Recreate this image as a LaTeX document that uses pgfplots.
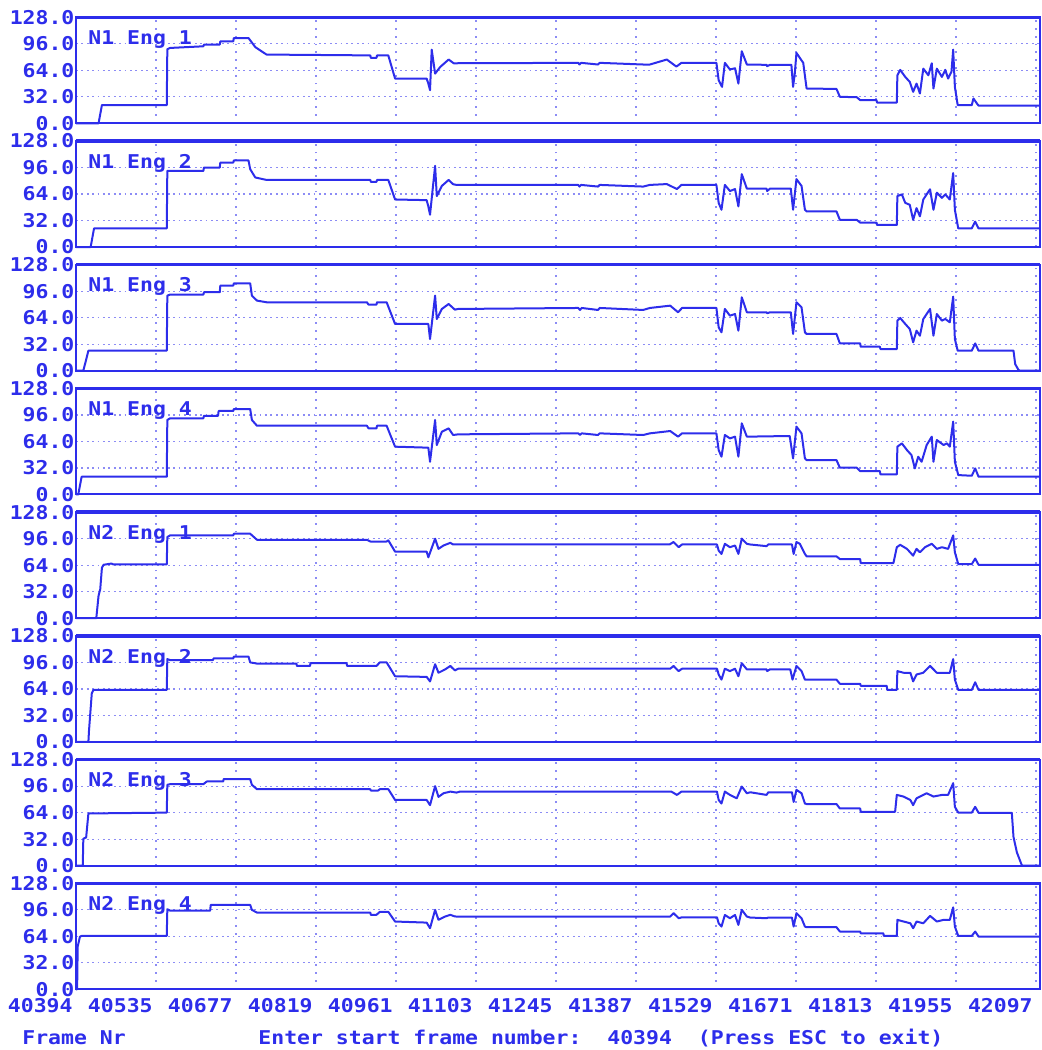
\documentclass[border=0pt]{standalone}
\usepackage{pgfplots}
\pgfplotsset{compat=1.18}
\usepackage{pgfplotstable}
\usepackage{fontspec}
\newfontfamily\scrfont{DejaVu Sans Mono}[FakeStretch=1.13]
\definecolor{scr}{RGB}{45,45,235}
\definecolor{scrgrid}{RGB}{140,140,245}
\newcommand{\scrtext}{\scrfont\bfseries\fontsize{9.5}{11}\selectfont}

% N1 Eng 1
\pgfplotstableread{
x y
40394 0
40434 0
40440 22
40555 22
40556 89.5
40561 91
40620 93
40621 95
40649 95
40650 99
40673 99
40674 103
40700 103
40712 92
40732 83
40916 82
40917 79
40927 79
40928 82
40948 82
40960 54
41016 54
41019 48
41022 40
41025 89
41031 60
41040 68
41055 77
41064 72.5
41285 73
41287 71
41290 73
41320 71
41323 73
41400 71
41412 71
41442 77
41459 68.5
41468 73
41530 73
41534 52
41540 44
41545 73
41554 65
41563 66.5
41569 48
41575 87
41584 71
41619 70.6
41620 69
41625 70.6
41663 70.6
41666 44
41669 60
41672 85
41684 73
41690 42
41743 41.5
41749 32
41779 31.5
41785 28
41814 28
41815 25
41850 25
41851 58
41856 64.5
41865 56
41873 50
41879 38
41885 48
41891 36
41897 66
41906 58
41912 72.5
41915 42
41921 66
41930 56
41936 64.5
41941 54
41947 62.5
41950 89
41953 44
41958 22
41983 22
41986 30
41992 24
41995 21.4
42104 21.4
}\tA

% N1 Eng 2
\pgfplotstableread{
x y
40394 0
40420 0
40426 22.5
40555 22.5
40556 92
40620 92
40621 96
40649 96
40650 102
40673 102
40674 104.5
40700 104.5
40703 94
40712 84
40732 81
40916 81
40917 78.7
40927 78.7
40928 81
40948 81
40960 57.4
41016 56.6
41019 49
41022 39
41031 98
41034 61.5
41043 73.8
41055 81
41063 75.8
41069 75
41285 75
41287 73
41290 75
41320 73
41323 75
41400 73
41412 75
41442 76
41460 70
41468 75
41530 75
41534 53.3
41539 45
41545 75
41554 67.6
41563 70
41569 49
41575 88
41584 70.5
41619 70.5
41620 67.6
41625 70.5
41662 70.5
41666 45
41672 82
41681 73.8
41687 45
41690 43
41743 43
41749 32.8
41779 32.8
41785 29.5
41814 29.5
41815 26.6
41850 26.6
41851 61.5
41859 63.5
41865 53.3
41873 51
41879 32.8
41885 47
41891 37
41897 57.4
41909 69.7
41915 45
41921 65.6
41930 59.4
41936 63.5
41944 57.4
41950 89.3
41953 45
41959 22.5
41983 22.5
41989 30.7
41995 22.5
42104 22.5
}\tB

% N1 Eng 3
\pgfplotstableread{
x y
40394 0
40407 0
40416 24.2
40555 24.2
40556 90.7
40561 92
40620 92
40621 94.8
40649 94.8
40650 102.8
40673 102.8
40674 105.6
40703 105.6
40706 90.7
40715 84.7
40732 82.7
40910 82.7
40913 79.8
40927 79.8
40928 82.7
40945 82.7
40960 56.5
41019 56.5
41022 38.3
41031 90.7
41034 62.5
41043 74.6
41055 80.6
41066 73.8
41072 74.6
41285 75.8
41288 73.4
41291 75.8
41320 73.4
41323 75.8
41400 73.4
41412 75.8
41448 78.6
41462 70.6
41469 75.8
41530 75.8
41534 52.4
41539 46.4
41545 74.6
41554 66.5
41563 68.5
41569 48.4
41575 88.7
41584 70.6
41619 70.6
41620 69.4
41625 70.6
41662 70.6
41666 44.4
41672 82.7
41681 76.6
41687 46.4
41690 44.4
41743 44.4
41749 33
41785 33
41786 29
41820 29
41821 26.2
41850 26.2
41851 60.5
41856 63.7
41865 56.5
41873 50.4
41879 34.3
41885 48.4
41891 42.3
41897 62.5
41909 74.6
41915 42.3
41921 68.5
41930 60.5
41936 62.5
41944 58.5
41950 89.5
41953 38.3
41958 24.2
41983 24.2
41989 33
41995 24.2
42057 24.2
42060 8
42066 0.8
42069 0
42104 0
}\tC

% N1 Eng 4
\pgfplotstableread{
x y
40394 0
40398 0
40404 21.4
40555 21.4
40556 90
40561 92
40620 92
40621 95
40646 95
40647 100.8
40673 100.8
40674 103.2
40703 103.2
40706 90
40715 83
40910 83
40913 79.8
40927 79.8
40928 83
40945 83
40960 57.7
41019 56.5
41022 39.5
41031 90
41034 59.7
41043 75.8
41055 79.8
41063 71.8
41072 72.6
41285 73.8
41288 71.8
41291 73.8
41320 71.8
41323 73.8
41400 71.8
41412 73.8
41448 76.6
41462 69.8
41469 73.8
41530 73.8
41534 53.6
41539 45.6
41545 71.8
41554 67.7
41563 69.8
41569 45.6
41575 85.9
41584 69.8
41660 70.6
41666 43.5
41672 81.9
41681 73.8
41687 43.5
41690 41.5
41743 41.5
41749 32.3
41779 32.3
41785 28.2
41820 28.2
41821 24.2
41850 24.2
41851 57.7
41859 61.7
41868 53.6
41876 47.6
41882 31.5
41888 45.6
41894 39.5
41903 59.7
41912 69.8
41915 39.5
41921 65.7
41933 59.7
41939 61.7
41944 57.7
41950 88
41953 39.5
41959 23.4
41983 22.6
41989 31.5
41995 21.4
42104 21.4
}\tD

% N2 Eng 1
\pgfplotstableread{
x y
40394 0
40430 0
40434 27
40437 35
40440 61
40443 64.5
40457 66
40460 65
40555 65
40556 98
40561 100
40673 100
40674 102
40703 102
40715 94.7
40910 94.7
40916 92.6
40945 92.6
40948 94
40960 80.4
41016 80.4
41019 73.5
41031 96
41037 83.7
41046 87.8
41058 91
41063 89
41447 89
41454 92
41463 85.7
41469 89
41531 89
41534 81.6
41539 77.6
41545 89.8
41554 85.7
41563 87.8
41569 77.6
41575 96
41584 89.8
41590 89
41619 87
41622 89
41664 89
41667 77.6
41672 92
41678 89.8
41687 77.6
41690 74.7
41743 74.7
41749 71.4
41785 71.4
41786 66.5
41844 66.5
41850 85.7
41856 88.6
41868 83.7
41879 75.5
41885 83.7
41891 79.6
41900 85.7
41912 89.8
41921 83.7
41930 85.7
41941 83.7
41950 100
41953 79.6
41959 65.3
41983 65.3
41989 72
41995 64.5
42104 64.5
}\tE

% N2 Eng 2
\pgfplotstableread{
x y
40394 0
40416 0
40417 13
40422 58.7
40425 62.8
40555 62.8
40556 100
40561 98.8
40637 98.8
40638 100.8
40673 100.8
40674 103
40700 103
40703 96
40715 94.6
40785 94.6
40786 91.7
40809 91.7
40810 95
40874 95
40875 91.7
40927 91.7
40933 96
40945 96
40960 79.3
41016 78.5
41022 73
41031 93.8
41037 83.5
41049 87.6
41058 91.7
41066 86.4
41072 88.4
41448 88.4
41454 91.7
41463 85.5
41469 88.4
41531 88.4
41534 81.4
41539 75.2
41545 88.4
41554 85.5
41563 88.4
41569 79.3
41575 95
41584 87.6
41619 87.6
41620 85.5
41625 87.6
41661 87.6
41665 75.2
41672 91.7
41681 85.5
41687 75.2
41743 75.2
41749 70.2
41785 70.2
41786 67.8
41832 67.8
41833 62.8
41850 62.8
41851 85.5
41862 83.5
41874 83.5
41879 73
41885 81.4
41897 83.5
41909 91.7
41921 83.5
41944 83.5
41950 100
41953 75.2
41959 62.8
41983 62.8
41989 72
41995 62.8
42104 62.8
}\tF

% N2 Eng 3
\pgfplotstableread{
x y
40394 0
40406 0
40407 32.5
40412 34
40416 63
40555 64
40556 97.6
40561 98.4
40620 98.4
40626 101.6
40655 101.6
40656 104.5
40703 104.5
40706 97.6
40715 92.3
40916 92.3
40917 90.7
40930 90.7
40933 92.3
40948 92.3
40960 79.3
41016 79.3
41022 73
41031 96
41037 83
41046 87.4
41058 89.4
41069 88.2
41075 89.4
41450 89.4
41460 85.4
41468 89.4
41531 89.4
41534 79.3
41539 75
41545 89.4
41554 85.4
41566 81.3
41575 95.5
41584 87.4
41590 88.6
41619 85.4
41622 88.6
41664 88.6
41667 77
41672 91.5
41681 87.4
41687 75
41690 74.4
41743 74.4
41749 69
41785 69
41786 65
41847 65
41850 85.4
41862 83.4
41874 79.3
41879 73
41885 81.3
41903 87.4
41915 83.4
41930 85.4
41941 85.4
41950 99.6
41953 71
41959 64
41983 64
41989 71
41995 63.8
42054 63.8
42057 34.6
42063 16
42072 0
42104 0
}\tG

% N2 Eng 4
\pgfplotstableread{
x y
40394 0
40396 0
40397 51.6
40401 63.7
40404 64.5
40555 64.5
40556 96.8
40561 95
40632 95
40633 102
40703 102
40706 96
40715 92.7
40916 92.7
40917 90
40927 90
40933 93.6
40948 93.6
40960 81.9
41016 80.6
41022 73.8
41031 96
41037 84
41049 88
41058 90
41066 88
41072 87.9
41448 87.9
41454 92
41463 85.9
41469 87
41531 87
41534 79.8
41539 75.8
41545 89.8
41554 85.9
41563 89.8
41569 77.8
41575 96
41584 87.9
41590 86.7
41619 85.9
41622 86.7
41664 86.7
41667 75.8
41672 92
41681 85.9
41687 75.8
41690 75
41743 75
41749 69.8
41785 69.8
41786 67.7
41826 67.7
41827 64.5
41850 64.5
41851 83.9
41862 81.9
41874 79.8
41879 73.8
41885 81.9
41897 79.8
41909 88.7
41921 81.9
41933 83.9
41944 83.9
41950 99
41953 75.8
41959 64.5
41983 64.5
41989 69.8
41995 63.7
42104 63.7
}\tH

\pgfplotsset{
  /pgfplots/panel title/.initial={},
  plotline/.style={scr, line width=1pt, line join=round, no markers},
  panel/.style={
    scale only axis, width=482pt, height=53pt, anchor=north west,
    xmin=40394, xmax=42104, ymin=0, ymax=128,
    scaled x ticks=false, scaled y ticks=false,
    xtick={40394,40535.92,40677.83,40819.75,40961.67,41103.58,41245.5,41387.42,41529.33,41671.25,41813.17,41955.08,42097},
    ytick={0,32,64,96,128},
    yticklabels={0.0,32.0,64.0,96.0,128.0},
    xticklabels={},
    grid=major,
    x grid style={scrgrid, line width=0.6pt, dash pattern=on 0.9pt off 3pt},
    y grid style={scrgrid, line width=0.6pt, dash pattern=on 0.9pt off 1.8pt},
    major tick length=0pt,
    axis line style={scr, line width=1pt},
    tick label style={font=\scrtext, text=scr, inner sep=0pt},
    yticklabel style={anchor=east, xshift=-0.6pt},
    clip=false,
    after end axis/.append code={
      \draw[scr, line width=1.7pt] (rel axis cs:0,1) -- (rel axis cs:1,1);
      \node[anchor=north west, inner sep=0pt, text=scr, font=\scrtext]
        at ([xshift=6pt,yshift=-6.3pt]rel axis cs:0,1) {\pgfkeysvalueof{/pgfplots/panel title}};
    },
  },
}

\begin{document}
\begin{tikzpicture}
\useasboundingbox (-38pt,8.65pt) rectangle (483pt,-516.35pt);

\begin{axis}[panel, panel title={N1 Eng 1}, at={(0pt,0pt)}]
\addplot[plotline] table {\tA};
\end{axis}
\begin{axis}[panel, panel title={N1 Eng 2}, at={(0pt,-61.86pt)}]
\addplot[plotline] table {\tB};
\end{axis}
\begin{axis}[panel, panel title={N1 Eng 3}, at={(0pt,-123.72pt)}]
\addplot[plotline] table {\tC};
\end{axis}
\begin{axis}[panel, panel title={N1 Eng 4}, at={(0pt,-185.58pt)}]
\addplot[plotline] table {\tD};
\end{axis}
\begin{axis}[panel, panel title={N2 Eng 1}, at={(0pt,-247.44pt)}]
\addplot[plotline] table {\tE};
\end{axis}
\begin{axis}[panel, panel title={N2 Eng 2}, at={(0pt,-309.30pt)}]
\addplot[plotline] table {\tF};
\end{axis}
\begin{axis}[panel, panel title={N2 Eng 3}, at={(0pt,-371.16pt)}]
\addplot[plotline] table {\tG};
\end{axis}
\begin{axis}[panel, panel title={N2 Eng 4}, at={(0pt,-433.02pt)},
  xticklabels={40394,40535,40677,40819,40961,41103,41245,41387,41529,41671,41813,41955,42097},
  xticklabel style={anchor=north east, xshift=-1.5pt, yshift=-4.3pt}]
\addplot[plotline] table {\tH};
\end{axis}

\node[anchor=base west, inner sep=0pt, text=scr, font=\scrtext] at (-27pt,-513.5pt) {Frame Nr};
\node[anchor=base west, inner sep=0pt, text=scr, font=\scrtext] at (91pt,-513.5pt)
  {Enter start frame number:\ \ 40394\ \ (Press ESC to exit)};
\end{tikzpicture}
\end{document}
